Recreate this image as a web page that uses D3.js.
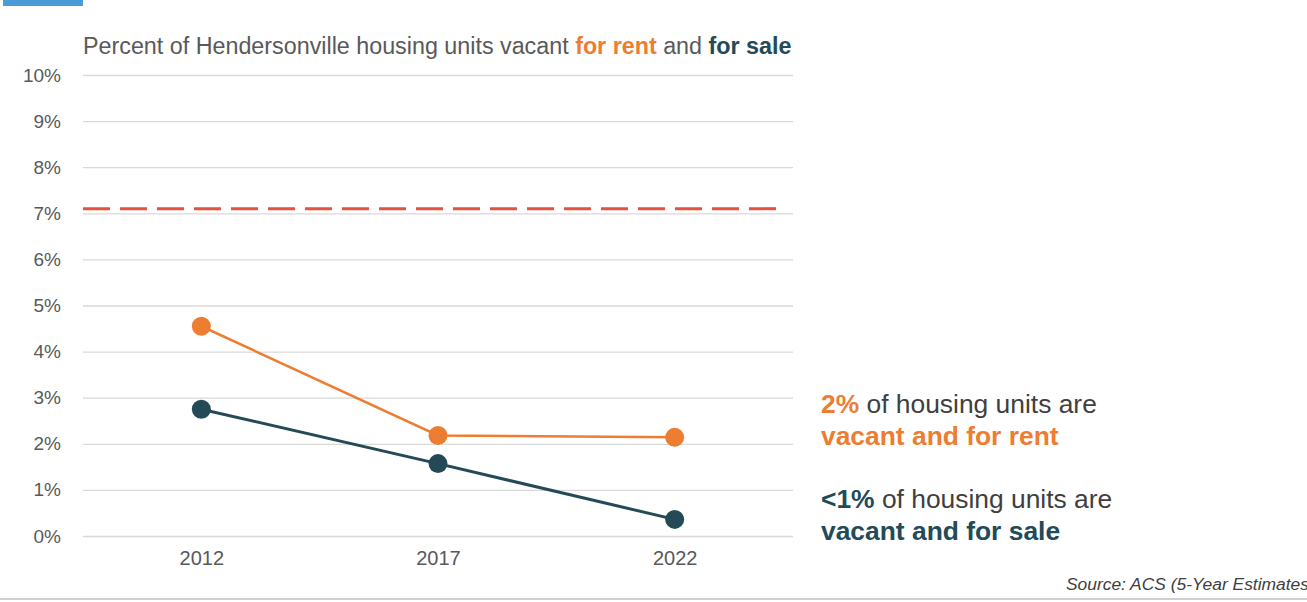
<!DOCTYPE html>
<html>
<head>
<meta charset="utf-8">
<script src="https://cdn.jsdelivr.net/npm/d3@7"></script>
<style>
  body { margin: 0; background: #fff; font-family: "Liberation Sans", Arial, sans-serif; }
</style>
</head>
<body>
<div id="chart"></div>
<script>
const years = ["2012", "2017", "2022"];
const forRent = [4.55, 2.18, 2.14];
const forSale = [2.75, 1.57, 0.36];
const benchmark = 7.1;
const yTicks = [0, 1, 2, 3, 4, 5, 6, 7, 8, 9, 10];

const W = 1307, H = 602;
const plotLeft = 83, plotRight = 793, plotTop = 75, plotBottom = 536;
const orange = "#ED7D31", dark = "#234A56", grey = "#595959";

const svg = d3.select("#chart").append("svg")
    .attr("width", W).attr("height", H);

// blue tab top-left
svg.append("rect").attr("x", 3).attr("y", 0).attr("width", 80).attr("height", 6).attr("fill", "#4A9BD6");

const x = d3.scalePoint().domain(years).range([plotLeft, plotRight]).padding(0.5);
const y = d3.scaleLinear().domain([0, 10]).range([plotBottom, plotTop]);

// gridlines
svg.append("g")
    .attr("transform", `translate(${plotLeft},0)`)
    .call(d3.axisLeft(y).tickValues(yTicks).tickSize(-(plotRight - plotLeft)).tickFormat(""))
    .call(g => g.select(".domain").remove())
    .call(g => g.selectAll("line").attr("stroke", "#D9D9D9").attr("stroke-width", 1.3));

// y labels
svg.append("g")
    .attr("transform", `translate(${plotLeft - 19},0)`)
    .call(d3.axisLeft(y).tickValues(yTicks).tickSize(0).tickFormat(d => d + "%"))
    .call(g => g.select(".domain").remove())
    .call(g => g.selectAll("text").attr("fill", grey).attr("font-size", 19)
        .attr("font-family", "Liberation Sans, Arial, sans-serif").attr("dy", "0.32em"));

// x labels
svg.append("g")
    .attr("transform", `translate(0,${plotBottom + 12})`)
    .call(d3.axisBottom(x).tickSize(0))
    .call(g => g.select(".domain").remove())
    .call(g => g.selectAll("text").attr("fill", grey).attr("font-size", 20)
        .attr("font-family", "Liberation Sans, Arial, sans-serif"));

// benchmark dashed line
svg.append("line")
    .attr("x1", plotLeft).attr("x2", plotRight - 8)
    .attr("y1", y(benchmark)).attr("y2", y(benchmark))
    .attr("stroke", "#E8503F").attr("stroke-width", 3)
    .attr("stroke-dasharray", "27,10");

const line = d3.line().x((d, i) => x(years[i])).y(d => y(d));

function drawSeries(vals, color, width) {
    svg.append("path").datum(vals)
        .attr("d", line).attr("fill", "none")
        .attr("stroke", color).attr("stroke-width", width);
    svg.selectAll(null).data(vals).enter().append("circle")
        .attr("cx", (d, i) => x(years[i])).attr("cy", d => y(d))
        .attr("r", 9.5).attr("fill", color);
}
drawSeries(forRent, orange, 2.5);
drawSeries(forSale, dark, 3);

// title
const title = svg.append("text").attr("x", plotLeft).attr("y", 54)
    .attr("font-size", 23.3).attr("fill", grey);
title.append("tspan").text("Percent of Hendersonville housing units vacant ");
title.append("tspan").text("for rent").attr("fill", orange).attr("font-weight", "bold");
title.append("tspan").text(" and ");
title.append("tspan").text("for sale").attr("fill", dark).attr("font-weight", "bold");

// annotations
const ann = [
    { y: 413, parts: [["2%", orange, true], [" of housing units are", "#3F3F3F", false]] },
    { y: 445, parts: [["vacant and for rent", orange, true]] },
    { y: 508, parts: [["<1%", dark, true], [" of housing units are", "#3F3F3F", false]] },
    { y: 540, parts: [["vacant and for sale", dark, true]] }
];
ann.forEach(a => {
    const t = svg.append("text").attr("x", 821).attr("y", a.y).attr("font-size", 26.4);
    a.parts.forEach(p => t.append("tspan").text(p[0]).attr("fill", p[1])
        .attr("font-weight", p[2] ? "bold" : "normal"));
});

// source
svg.append("text").attr("x", 1066).attr("y", 590)
    .attr("font-size", 17.4).attr("font-style", "italic").attr("fill", "#404040")
    .text("Source: ACS (5-Year Estimates)");

// bottom rule
svg.append("rect").attr("x", 0).attr("y", 598).attr("width", W).attr("height", 2).attr("fill", "#D0D0D0");
</script>
</body>
</html>
